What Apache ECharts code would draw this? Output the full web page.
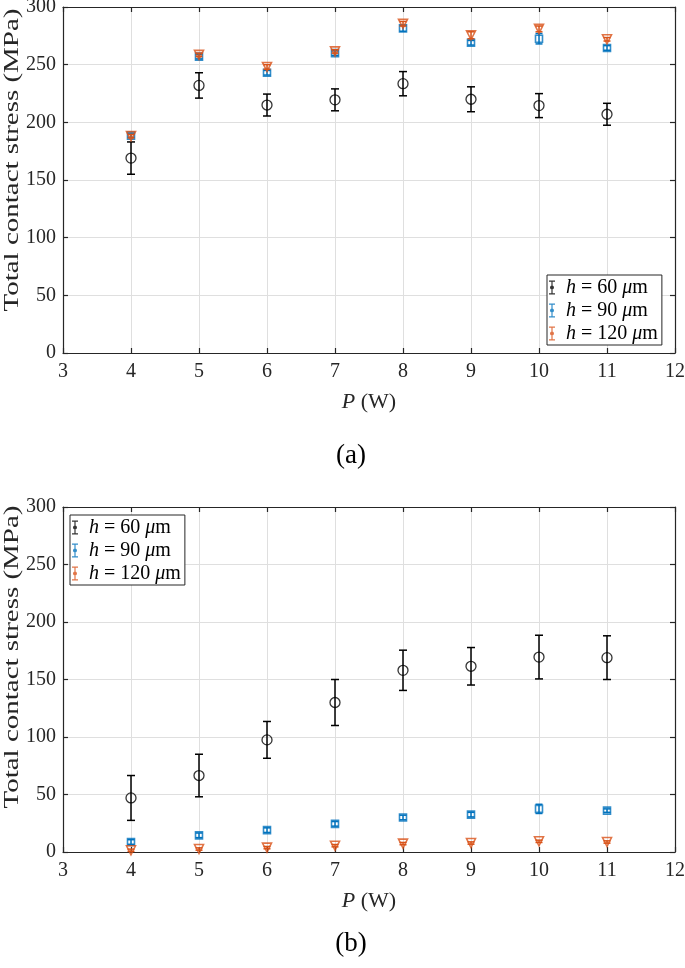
<!DOCTYPE html>
<html>
<head>
<meta charset="utf-8">
<script src="https://cdn.jsdelivr.net/npm/echarts@6/dist/echarts.min.js"></script>
<style>
html,body{margin:0;padding:0;background:#fff;}
#chart{width:685px;height:968px;}
</style>
</head>
<body>
<div id="chart"></div>
<script>
// ---- data ----
const powerW = [4, 5, 6, 7, 8, 9, 10, 11];
const xTicks = [3, 4, 5, 6, 7, 8, 9, 10, 11, 12];
const yTicks = [0, 50, 100, 150, 200, 250, 300];
const seriesNames = ['h = 60 μm', 'h = 90 μm', 'h = 120 μm'];
const yTitle = 'Total contact stress (MPa)';

// panel (a)
const a60 = [169, 232, 215, 219.5, 233.5, 220, 214.5, 207];
const a60err = [14, 11, 9.5, 9.5, 10.5, 10.8, 10.4, 9.5];
const a90 = [188.5, 257, 243, 260, 281.5, 269, 272.5, 264.5];
const a90err = [1.5, 2, 2, 2, 2.5, 2, 4.5, 2];
const a120 = [188, 258.5, 248, 261.5, 285.5, 275.5, 281, 272];
const a120err = [1.5, 1.5, 2, 1.5, 2, 3, 2.5, 1.5];

// panel (b)
const b60 = [47, 66.5, 97.5, 130, 158, 161.5, 169.5, 169];
const b60err = [19.5, 18.5, 16, 20, 17.5, 16.3, 19, 19];
const b90 = [8.7, 14.5, 19, 24.5, 30, 32.5, 37.5, 36];
const b90err = [2, 2, 2, 2, 2, 2, 4, 1.5];
const b120 = [1.5, 2.6, 3.8, 5.5, 7.3, 7.8, 9.3, 8.7];
const b120err = [1, 1, 1, 1, 1, 1, 1, 1];

// ---- styling ----
const FONT = '"Liberation Serif", "Times New Roman", serif';
const AX = '#262626';
const GRIDC = '#dfdfdf';
const C60 = '#000000', C90 = '#0072BD', C120 = '#D95319';
const ICON = 'path://M0,0H6V1.2H0Z M2.4,0H3.6V14H2.4Z M0,12.8H6V14H0Z M3,5A2,2 0 1 1 2.99,5Z';

const chart = echarts.init(document.getElementById('chart'), null, {renderer: 'canvas'});

function errRender(color, cap) {
  return function (params, api) {
    const x = api.value(0), lo = api.value(1), hi = api.value(2);
    const p1 = api.coord([x, lo]), p2 = api.coord([x, hi]);
    const st = {stroke: color, lineWidth: 1.5};
    return {type: 'group', children: [
      {type: 'line', shape: {x1: p1[0], y1: p1[1], x2: p2[0], y2: p2[1]}, style: st},
      {type: 'line', shape: {x1: p1[0] - cap, y1: p1[1], x2: p1[0] + cap, y2: p1[1]}, style: st},
      {type: 'line', shape: {x1: p2[0] - cap, y1: p2[1], x2: p2[0] + cap, y2: p2[1]}, style: st}
    ]};
  };
}
function errData(v, e) { return powerW.map((x, i) => [x, v[i] - e[i], v[i] + e[i]]); }
function ptData(v) { return powerW.map((x, i) => [x, v[i]]); }

function xAxes(gi) {
  const base = {
    gridIndex: gi, type: 'value', min: xTicks[0], max: xTicks[xTicks.length - 1], interval: 1,
    axisLine: {onZero: false, lineStyle: {color: AX, width: 1.2}},
    axisTick: {inside: true, length: 5, lineStyle: {color: AX, width: 1.2}},
    splitLine: {show: false}
  };
  return [
    Object.assign({}, base, {
      position: 'bottom',
      axisLabel: {color: AX, fontFamily: FONT, fontSize: 20, margin: 9},
      splitLine: {show: true, lineStyle: {color: GRIDC, width: 1}},
      name: '{i|P} (W)', nameLocation: 'middle', nameGap: 38,
      nameTextStyle: {color: AX, fontFamily: FONT, fontSize: 22,
        rich: {i: {fontStyle: 'italic', fontFamily: FONT, fontSize: 22, color: AX}}}
    }),
    Object.assign({}, base, {position: 'top', axisLabel: {show: false}})
  ];
}
function yAxes(gi) {
  const base = {
    gridIndex: gi, type: 'value', min: yTicks[0], max: yTicks[yTicks.length - 1], interval: 50,
    axisLine: {show: true, onZero: false, lineStyle: {color: AX, width: 1.2}},
    axisTick: {show: true, inside: true, length: 5, lineStyle: {color: AX, width: 1.2}},
    splitLine: {show: false}
  };
  return [
    Object.assign({}, base, {
      position: 'left',
      axisLabel: {color: AX, fontFamily: FONT, fontSize: 20, margin: 7},
      splitLine: {show: true, lineStyle: {color: GRIDC, width: 1}}
    }),
    Object.assign({}, base, {position: 'right', axisLabel: {show: false}})
  ];
}

function panelSeries(xi, yi, d60, e60, d90, e90, d120, e120) {
  return [
    {type: 'custom', xAxisIndex: xi, yAxisIndex: yi, renderItem: errRender(C60, 4),
      encode: {x: 0, y: [1, 2]}, data: errData(d60, e60), z: 2, silent: true},
    {type: 'scatter', name: seriesNames[0], xAxisIndex: xi, yAxisIndex: yi, data: ptData(d60),
      symbol: 'circle', symbolSize: 10,
      itemStyle: {color: 'rgba(0,0,0,0)', borderColor: C60, borderWidth: 1.3}, z: 3},
    {type: 'custom', xAxisIndex: xi, yAxisIndex: yi, renderItem: errRender(C90, 3.5),
      encode: {x: 0, y: [1, 2]}, data: errData(d90, e90), z: 4, silent: true},
    {type: 'scatter', name: seriesNames[1], xAxisIndex: xi, yAxisIndex: yi, data: ptData(d90),
      symbol: 'rect', symbolSize: 7,
      itemStyle: {color: 'rgba(0,0,0,0)', borderColor: C90, borderWidth: 1.6}, z: 5},
    {type: 'custom', xAxisIndex: xi, yAxisIndex: yi, renderItem: errRender(C120, 3.5),
      encode: {x: 0, y: [1, 2]}, data: errData(d120, e120), z: 6, silent: true},
    {type: 'scatter', name: seriesNames[2], xAxisIndex: xi, yAxisIndex: yi, data: ptData(d120),
      symbol: 'triangle', symbolRotate: 180, symbolSize: 9,
      itemStyle: {color: 'rgba(0,0,0,0)', borderColor: C120, borderWidth: 1.6}, z: 7}
  ];
}

function legendAt(left, top) {
  const cols = [C60, C90, C120];
  return {
    left: left, top: top, orient: 'vertical',
    backgroundColor: '#fff', borderColor: AX, borderWidth: 1,
    padding: [2, 4, 1, 2], itemGap: 2, itemWidth: 18, itemHeight: 14,
    selectedMode: false,
    textStyle: {fontFamily: FONT, fontSize: 20, color: '#000', lineHeight: 21,
      rich: {i: {fontStyle: 'italic', fontFamily: FONT, fontSize: 20, color: '#000'}}},
    formatter: function (name) { return name.replace(/^h/, '{i|h}').replace('μ', '{i|μ}'); },
    data: seriesNames.map((n, i) => ({name: n, icon: ICON,
      itemStyle: {color: cols[i], borderWidth: 0}}))
  };
}

function yName(cy) {
  return {type: 'text', x: 12, y: cy, rotation: Math.PI / 2, scaleX: 1.38, z: 10,
    style: {text: yTitle, fontFamily: FONT, fontSize: 21, fill: AX,
      align: 'center', verticalAlign: 'middle'}};
}

const option = {
  backgroundColor: '#fff',
  animation: false,
  textStyle: {fontFamily: FONT},
  grid: [
    {left: 63, top: 7, width: 612, height: 346, containLabel: false, outerBoundsMode: 'none'},
    {left: 63, top: 507, width: 612, height: 345, containLabel: false, outerBoundsMode: 'none'}
  ],
  title: [
    {text: '(a)', left: 346, top: 437, textAlign: 'center',
      textStyle: {fontFamily: FONT, fontSize: 27, fontWeight: 'normal', color: '#000'}},
    {text: '(b)', left: 346, top: 925, textAlign: 'center',
      textStyle: {fontFamily: FONT, fontSize: 27, fontWeight: 'normal', color: '#000'}}
  ],
  graphic: [yName(160), yName(657)],
  xAxis: xAxes(0).concat(xAxes(1)),
  yAxis: yAxes(0).concat(yAxes(1)),
  legend: [legendAt(547, 275), legendAt(70, 515)],
  series: panelSeries(0, 0, a60, a60err, a90, a90err, a120, a120err)
    .concat(panelSeries(2, 2, b60, b60err, b90, b90err, b120, b120err))
};
chart.setOption(option);
</script>
</body>
</html>
